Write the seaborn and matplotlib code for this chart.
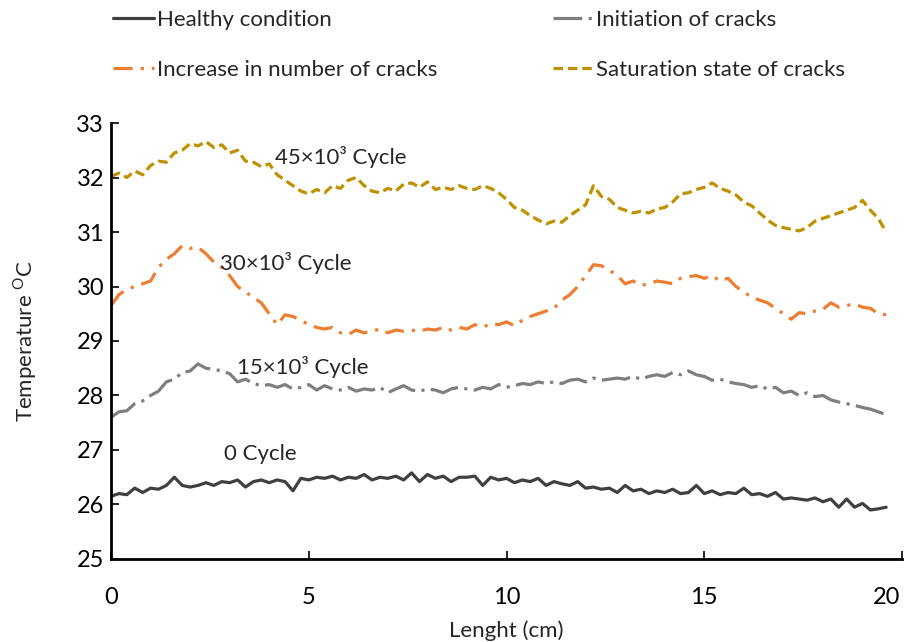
import numpy as np
import pandas as pd
import matplotlib
matplotlib.use('Agg')
import matplotlib.pyplot as plt
import matplotlib.transforms as mtransforms
import seaborn as sns

# 各曲線の値（0.2 cm 間隔で読み取り）
healthy = [26.15, 26.20, 26.18, 26.30, 26.22, 26.30, 26.28, 26.35, 26.50, 26.35,
           26.32, 26.35, 26.40, 26.35, 26.42, 26.40, 26.45, 26.32, 26.42, 26.45,
           26.40, 26.45, 26.42, 26.25, 26.48, 26.45, 26.50, 26.48, 26.52, 26.45,
           26.50, 26.48, 26.55, 26.45, 26.50, 26.48, 26.52, 26.45, 26.58, 26.42,
           26.55, 26.48, 26.52, 26.42, 26.50, 26.50, 26.52, 26.35, 26.50, 26.45,
           26.48, 26.40, 26.45, 26.42, 26.48, 26.35, 26.42, 26.38, 26.35, 26.42,
           26.30, 26.32, 26.28, 26.30, 26.22, 26.35, 26.25, 26.28, 26.20, 26.25,
           26.22, 26.28, 26.20, 26.22, 26.35, 26.20, 26.25, 26.18, 26.22, 26.20,
           26.30, 26.18, 26.20, 26.15, 26.22, 26.10, 26.12, 26.10, 26.08, 26.12,
           26.05, 26.10, 25.95, 26.10, 25.95, 26.02, 25.90, 25.92, 25.95]

initiation = [27.60, 27.70, 27.72, 27.85, 27.90, 28.00, 28.08, 28.25, 28.30, 28.42,
              28.45, 28.58, 28.50, 28.48, 28.45, 28.40, 28.25, 28.30, 28.22, 28.18,
              28.20, 28.15, 28.20, 28.12, 28.15, 28.20, 28.10, 28.18, 28.12, 28.10,
              28.15, 28.08, 28.12, 28.10, 28.15, 28.05, 28.12, 28.18, 28.10, 28.08,
              28.12, 28.10, 28.05, 28.12, 28.15, 28.12, 28.10, 28.15, 28.12, 28.20,
              28.15, 28.18, 28.22, 28.20, 28.25, 28.22, 28.25, 28.22, 28.28, 28.30,
              28.25, 28.32, 28.28, 28.30, 28.32, 28.30, 28.35, 28.30, 28.35, 28.38,
              28.35, 28.42, 28.38, 28.45, 28.38, 28.35, 28.28, 28.30, 28.25, 28.22,
              28.20, 28.15, 28.18, 28.12, 28.15, 28.05, 28.08, 28.00, 28.05, 27.98,
              28.00, 27.92, 27.88, 27.85, 27.82, 27.78, 27.75, 27.70, 27.65]

increase = [29.65, 29.85, 29.95, 30.00, 30.05, 30.10, 30.35, 30.50, 30.60, 30.75,
            30.70, 30.72, 30.60, 30.45, 30.35, 30.20, 30.00, 29.90, 29.80, 29.70,
            29.50, 29.30, 29.48, 29.45, 29.38, 29.30, 29.25, 29.22, 29.25, 29.15,
            29.12, 29.20, 29.15, 29.18, 29.22, 29.15, 29.20, 29.18, 29.20, 29.18,
            29.22, 29.20, 29.25, 29.20, 29.25, 29.22, 29.30, 29.25, 29.32, 29.30,
            29.35, 29.28, 29.38, 29.45, 29.50, 29.55, 29.60, 29.75, 29.85, 30.00,
            30.20, 30.40, 30.38, 30.30, 30.20, 30.05, 30.10, 30.02, 30.05, 30.10,
            30.08, 30.05, 30.15, 30.18, 30.20, 30.15, 30.20, 30.10, 30.15, 30.00,
            29.90, 29.80, 29.75, 29.70, 29.60, 29.50, 29.40, 29.52, 29.50, 29.55,
            29.58, 29.70, 29.62, 29.65, 29.68, 29.62, 29.60, 29.50, 29.48]

saturation = [32.02, 32.08, 32.00, 32.12, 32.05, 32.22, 32.30, 32.28, 32.45, 32.50,
              32.62, 32.58, 32.66, 32.55, 32.60, 32.45, 32.50, 32.30, 32.28, 32.20,
              32.25, 32.05, 31.95, 31.85, 31.75, 31.70, 31.78, 31.72, 31.85, 31.80,
              31.95, 32.00, 31.85, 31.75, 31.72, 31.80, 31.75, 31.88, 31.90, 31.82,
              31.92, 31.78, 31.82, 31.78, 31.85, 31.80, 31.78, 31.85, 31.80, 31.72,
              31.60, 31.45, 31.40, 31.30, 31.22, 31.15, 31.20, 31.18, 31.30, 31.40,
              31.50, 31.85, 31.65, 31.60, 31.45, 31.40, 31.35, 31.38, 31.35, 31.42,
              31.45, 31.55, 31.70, 31.72, 31.78, 31.82, 31.90, 31.80, 31.75, 31.68,
              31.55, 31.48, 31.35, 31.22, 31.12, 31.08, 31.05, 31.02, 31.08, 31.20,
              31.25, 31.30, 31.35, 31.40, 31.45, 31.58, 31.40, 31.25, 31.00]

length = [round(0.2 * i, 1) for i in range(len(healthy))]

labels = ['Healthy condition', 'Initiation of cracks',
          'Increase in number of cracks', 'Saturation state of cracks']
colors = ['#404040', '#7f7f7f', '#ed7d31', '#bf9000']
dashes = ['', (9, 2, 1, 2), (6, 2.5, 1, 2.5), (3, 1.5)]

series = [healthy, initiation, increase, saturation]
df = pd.concat([pd.DataFrame({'Lenght': length, 'Temp': s, 'Condition': lab})
                for s, lab in zip(series, labels)], ignore_index=True)

sns.set_style('ticks')
plt.rcParams['font.family'] = ['Lato', 'DejaVu Sans']

fig = plt.figure(figsize=(9.07, 6.42), dpi=100)
ax = fig.add_axes([0.1224, 0.1293, 0.8721, 0.6791])

sns.lineplot(data=df, x='Lenght', y='Temp', hue='Condition', style='Condition',
             hue_order=labels, style_order=labels,
             palette=dict(zip(labels, colors)), dashes=dict(zip(labels, dashes)),
             linewidth=2.3, legend=False, ax=ax)

ax.set_xlim(0, 20)
ax.set_ylim(25, 33)
ax.set_xticks([0, 5, 10, 15, 20])
ax.set_yticks(range(25, 34))
ax.tick_params(direction='in', length=6, width=1.2, labelsize=17, colors='black')
ax.tick_params(axis='x', pad=20)
ax.tick_params(axis='y', pad=5)
for sp in ['left', 'bottom']:
    ax.spines[sp].set_linewidth(2)
    ax.spines[sp].set_color('black')
sns.despine(ax=ax)

# 右端の "20" が切れないようにずらす
last = ax.get_xticklabels()[-1]
last.set_ha('right')
last.set_transform(last.get_transform() +
                   mtransforms.ScaledTranslation(-1 / 72, 0, fig.dpi_scale_trans))

ax.set_xlabel('Lenght (cm)', fontsize=16, labelpad=9)
ax.set_ylabel(r'Temperature $^\mathregular{O}$C', fontsize=16, labelpad=27)

# 注記
ax.text(4.15, 32.38, '45×10³ Cycle', fontsize=16, va='center')
ax.text(2.76, 30.43, '30×10³ Cycle', fontsize=16, va='center')
ax.text(3.19, 28.52, '15×10³ Cycle', fontsize=16, va='center')
ax.text(2.86, 26.93, '0 Cycle', fontsize=16, va='center')

lines = ax.get_lines()[:4]
order = [0, 2, 1, 3]
fig.legend([lines[i] for i in order], [labels[i] for i in order], ncol=2,
           loc='upper left', bbox_to_anchor=(0.1246, 0.985), borderaxespad=0,
           borderpad=0, frameon=False, fontsize=16, handlelength=1.85,
           handletextpad=0.12, columnspacing=5.2, labelspacing=1.35)

plt.savefig('out.png', dpi=100)
plt.close()
